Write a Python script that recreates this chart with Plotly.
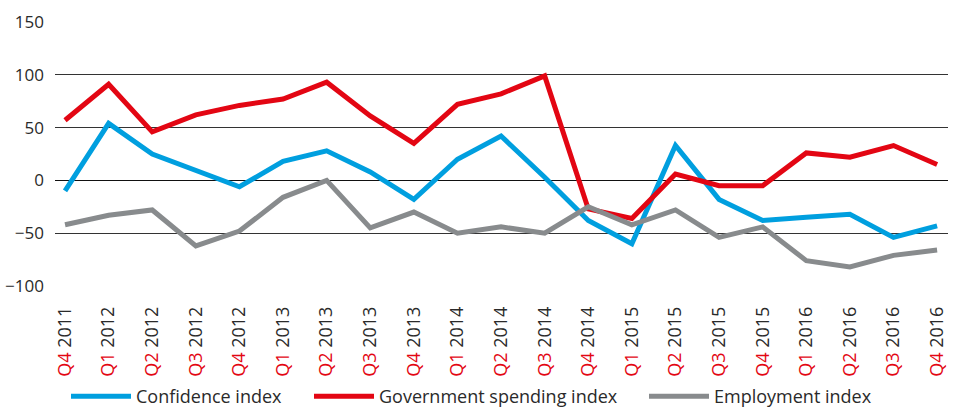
import plotly.graph_objects as go

quarters = ["Q4", "Q1", "Q2", "Q3", "Q4", "Q1", "Q2", "Q3", "Q4", "Q1", "Q2",
            "Q3", "Q4", "Q1", "Q2", "Q3", "Q4", "Q1", "Q2", "Q3", "Q4"]
years = ["2011", "2012", "2012", "2012", "2012", "2013", "2013", "2013", "2013", "2014", "2014",
         "2014", "2014", "2015", "2015", "2015", "2015", "2016", "2016", "2016", "2016"]

confidence = [-10, 54, 25, 10, -6, 18, 28, 8, -18, 20, 42,
              3, -38, -60, 33, -18, -38, -35, -32, -54, -43]
government = [57, 91, 46, 62, 71, 77, 93, 61, 35, 72, 82,
              99, -27, -36, 6, -5, -5, 26, 22, 33, 15]
employment = [-42, -33, -28, -62, -48, -16, 0, -45, -30, -50, -44,
              -50, -25, -42, -28, -54, -44, -76, -82, -71, -66]

y_ticks = [-100, -50, 0, 50, 100, 150]

x = list(range(len(quarters)))
ticktext = [f"<span style='color:#E30613'>{q}</span> {y}" for q, y in zip(quarters, years)]

FONT = "Open Sans"
TXT = "#2a2a2a"
fig = go.Figure()
series = [
    ("Confidence index", confidence, "#009FDF", "legend", 70),
    ("Government spending index", government, "#E30613", "legend2", 313),
    ("Employment index", employment, "#888B8D", "legend3", 648),
]
legends = {}
for name, vals, col, lg, px in series:
    fig.add_trace(go.Scatter(x=x, y=vals, name=name, mode="lines", legend=lg,
                             line=dict(color=col, width=5)))
    legends[lg] = dict(orientation="h", xref="container", yref="container",
                       x=(px - 4) / 956, xanchor="left", y=0, yanchor="bottom",
                       font=dict(size=18, color=TXT), itemwidth=60,
                       bgcolor="rgba(0,0,0,0)")

fig.update_layout(
    width=956, height=415,
    margin=dict(l=55, r=8, t=22, b=129),
    paper_bgcolor="white", plot_bgcolor="white",
    font=dict(family=FONT, size=16, color=TXT),
    showlegend=True,
    **legends,
)
fig.update_xaxes(
    range=[-0.23, 20.25], tickvals=x, ticktext=ticktext, tickangle=-90,
    showgrid=False, zeroline=False, showline=False, ticks="", automargin=False,
    tickfont=dict(size=18, color=TXT), ticklabelstandoff=16,
)
fig.update_yaxes(
    range=[-100, 150], tickvals=y_ticks, showgrid=True, gridcolor="#333333", gridwidth=1,
    zeroline=True, zerolinecolor="#111111", zerolinewidth=1, showline=False, ticks="",
    automargin=False, tickfont=dict(size=17, color=TXT), ticklabelstandoff=10,
)

fig.write_html("out.html", config={"displayModeBar": False},
               post_script="document.body.style.margin='0';document.body.style.overflow='hidden';")
